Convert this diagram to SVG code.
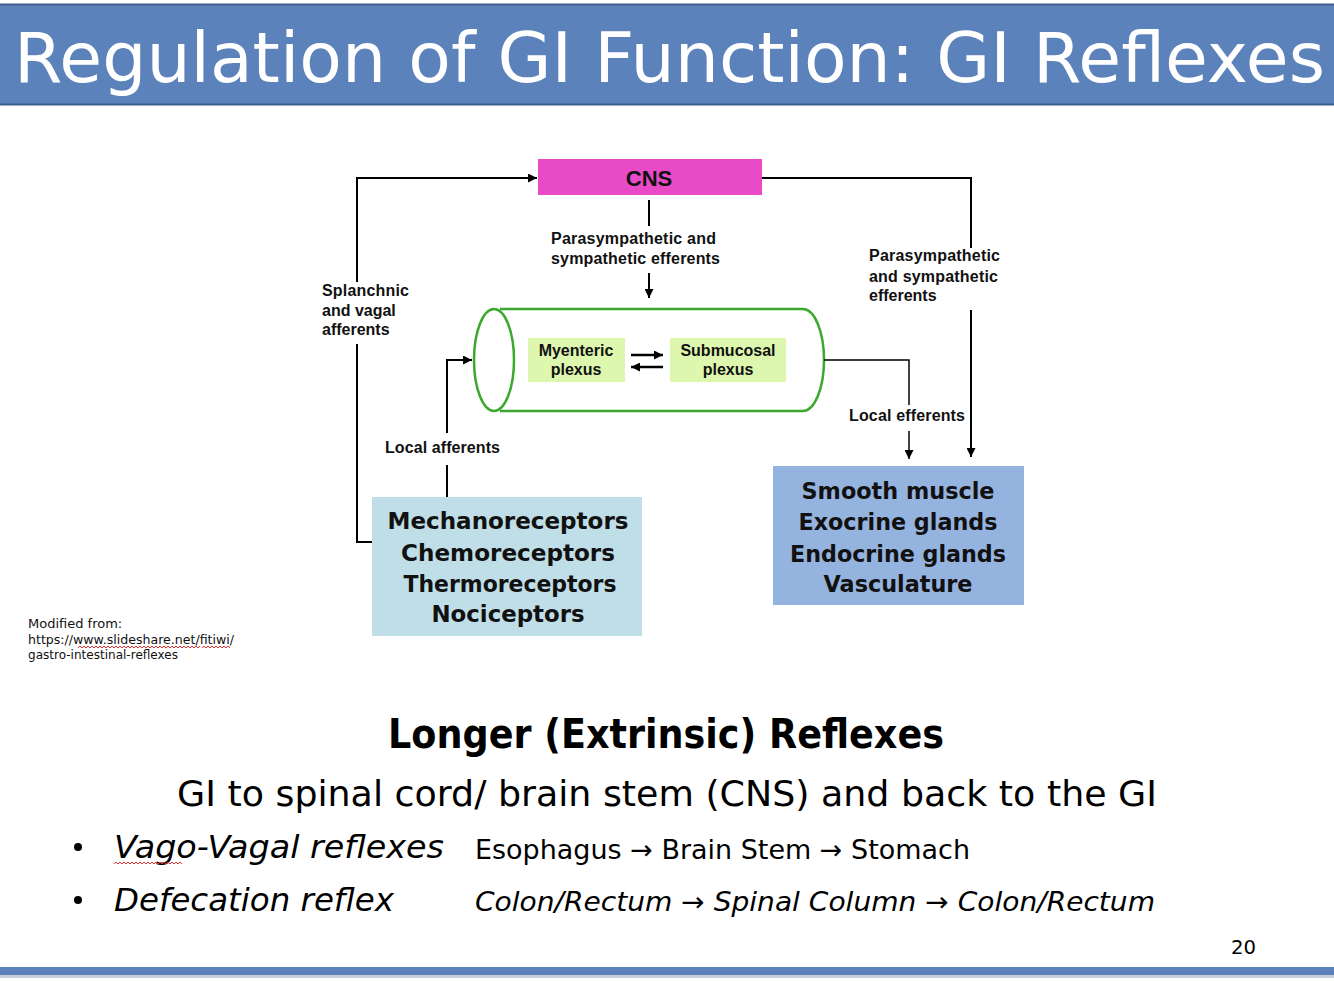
<svg xmlns="http://www.w3.org/2000/svg" width="1334" height="981" viewBox="0 0 1334 981">
<defs>
<marker id="ah" viewBox="0 0 10 10" refX="10" refY="5" markerWidth="9" markerHeight="9" markerUnits="userSpaceOnUse" orient="auto">
<path d="M0,0 L10,5 L0,10 z" fill="#000"/>
</marker>
<style>
.lbl{font-family:"Liberation Sans",Arial,sans-serif;font-weight:bold;font-size:16px;fill:#111;}
.big{font-family:"DejaVu Sans","Liberation Sans",sans-serif;font-weight:bold;font-size:23px;fill:#111;text-anchor:middle;}
.plex{font-family:"Liberation Sans",Arial,sans-serif;font-weight:bold;font-size:16px;fill:#111;text-anchor:middle;}
.ln{fill:none;stroke:#000;stroke-width:2;}
.body{font-family:"DejaVu Sans","Liberation Sans",sans-serif;fill:#000;}
.wavy{fill:none;stroke:#e03030;stroke-width:1;}
</style>
</defs>
<rect width="1334" height="981" fill="#fff"/>
<g id="title-bar">
<rect x="0" y="4" width="1334" height="101" fill="#5B82BB"/>
<line x1="0" y1="4.5" x2="1334" y2="4.5" stroke="#3E5E8E" stroke-width="2"/>
<line x1="0" y1="104.5" x2="1334" y2="104.5" stroke="#3E5E8E" stroke-width="2"/>
<text x="14" y="82" font-family="DejaVu Sans,sans-serif" font-size="70" fill="#fff" textLength="1311" lengthAdjust="spacingAndGlyphs">Regulation of GI Function: GI Reflexes</text>
</g>
<g id="bottom-bar">
<rect x="0" y="967" width="1334" height="8" fill="#5B82BB"/>
<rect x="0" y="975" width="1334" height="3" fill="#c9cfd8"/>
</g>
<g id="cns">
<rect x="538" y="159" width="224" height="36" fill="#E94BC6"/>
<text x="649" y="186" font-family="Liberation Sans,Arial,sans-serif" font-weight="bold" font-size="22" fill="#111" text-anchor="middle">CNS</text>
</g>
<g id="gi-tube">
<path d="M500,309 L803,309 A21,51 0 0 1 803,411 L500,411" fill="#fff" stroke="#3DA82E" stroke-width="2.5"/>
<ellipse cx="494" cy="360" rx="20" ry="51" fill="#fff" stroke="#3DA82E" stroke-width="2.5"/>
</g>
<g id="myenteric">
<rect x="528" y="338" width="97" height="44" fill="#DDF7AE"/>
<text class="plex" x="576" y="356">Myenteric</text>
<text class="plex" x="576" y="375">plexus</text>
</g>
<g id="submucosal">
<rect x="670" y="338" width="116" height="44" fill="#DDF7AE"/>
<text class="plex" x="728" y="356">Submucosal</text>
<text class="plex" x="728" y="375">plexus</text>
</g>
<g id="receptors">
<rect x="372" y="497" width="270" height="139" fill="#BFDEE7"/>
<text class="big" x="508" y="529" textLength="241" lengthAdjust="spacingAndGlyphs">Mechanoreceptors</text>
<text class="big" x="508" y="561" textLength="214" lengthAdjust="spacingAndGlyphs">Chemoreceptors</text>
<text class="big" x="510" y="592" textLength="213" lengthAdjust="spacingAndGlyphs">Thermoreceptors</text>
<text class="big" x="508" y="622" textLength="153" lengthAdjust="spacingAndGlyphs">Nociceptors</text>
</g>
<g id="effectors">
<rect x="773" y="466" width="251" height="139" fill="#95B3DF"/>
<text class="big" x="898" y="499" textLength="193" lengthAdjust="spacingAndGlyphs">Smooth muscle</text>
<text class="big" x="898" y="530" textLength="199" lengthAdjust="spacingAndGlyphs">Exocrine glands</text>
<text class="big" x="898" y="562" textLength="216" lengthAdjust="spacingAndGlyphs">Endocrine glands</text>
<text class="big" x="898" y="592" textLength="149" lengthAdjust="spacingAndGlyphs">Vasculature</text>
</g>
<g id="connectors">
<polyline class="ln" points="357,282 357,178 537,178" marker-end="url(#ah)"/>
<polyline class="ln" points="372,542 357,542 357,344"/>
<line class="ln" x1="649" y1="200" x2="649" y2="226"/>
<line class="ln" x1="649" y1="273" x2="649" y2="298" marker-end="url(#ah)"/>
<polyline class="ln" points="762,178 971,178 971,248"/>
<line class="ln" x1="971" y1="310" x2="971" y2="457" marker-end="url(#ah)"/>
<polyline class="ln" points="824,360 909,360 909,405" style="stroke-width:1.5"/>
<line class="ln" x1="909" y1="431" x2="909" y2="459" style="stroke-width:1.5" marker-end="url(#ah)"/>
<line class="ln" x1="447" y1="497" x2="447" y2="465"/>
<polyline class="ln" points="447,433 447,360 472,360" marker-end="url(#ah)"/>
<line class="ln" x1="631" y1="355" x2="663" y2="355" style="stroke-width:2.5" marker-end="url(#ah)"/>
<line class="ln" x1="663" y1="367" x2="631" y2="367" style="stroke-width:2.5" marker-end="url(#ah)"/>
</g>
<g id="labels">
<text class="lbl" x="551" y="244" textLength="165">Parasympathetic and</text>
<text class="lbl" x="551" y="264" textLength="169">sympathetic efferents</text>
<text class="lbl" x="322" y="296" textLength="87">Splanchnic</text>
<text class="lbl" x="322" y="316">and vagal</text>
<text class="lbl" x="322" y="335">afferents</text>
<text class="lbl" x="869" y="261" textLength="131">Parasympathetic</text>
<text class="lbl" x="869" y="282" textLength="129">and sympathetic</text>
<text class="lbl" x="869" y="301">efferents</text>
<text class="lbl" x="849" y="421" textLength="116">Local efferents</text>
<text class="lbl" x="385" y="453" textLength="115">Local afferents</text>
</g>
<g id="source-note" font-family="DejaVu Sans,sans-serif" font-size="13" fill="#111">
<text x="28" y="628">Modified from:</text>
<text x="28" y="644" textLength="206" lengthAdjust="spacingAndGlyphs">https://www.slideshare.net/fitiwi/</text>
<text x="28" y="659" textLength="150" lengthAdjust="spacingAndGlyphs">gastro-intestinal-reflexes</text>
<path class="wavy" d="M78,648 l2,-2 l2,2 l2,-2 l2,2 l2,-2 l2,2 l2,-2 l2,2 l2,-2 l2,2 l2,-2 l2,2 l2,-2 l2,2 l2,-2 l2,2 l2,-2 l2,2 l2,-2 l2,2 l2,-2 l2,2 l2,-2 l2,2 l2,-2 l2,2 l2,-2 l2,2 l2,-2 l2,2 l2,-2 l2,2 l2,-2 l2,2 l2,-2 l2,2 l2,-2 l2,2 l2,-2 l2,2 l2,-2 l2,2 l2,-2 l2,2 l2,-2 l2,2 l2,-2 l2,2 l2,-2 l2,2 l2,-2 l2,2 l2,-2 l2,2 l2,-2 l2,2 l2,-2 l2,2 l2,-2 l2,2 l2,-2"/>
<path class="wavy" d="M202,648 l2,-2 l2,2 l2,-2 l2,2 l2,-2 l2,2 l2,-2 l2,2 l2,-2 l2,2 l2,-2 l2,2 l2,-2 l2,2"/>
</g>
<g id="summary" class="body">
<text x="666" y="748" font-size="40" font-weight="bold" text-anchor="middle" textLength="556" lengthAdjust="spacingAndGlyphs">Longer (Extrinsic) Reflexes</text>
<text x="667" y="806" font-size="36" text-anchor="middle" textLength="980" lengthAdjust="spacingAndGlyphs">GI to spinal cord/ brain stem (CNS) and back to the GI</text>
<circle cx="78" cy="847" r="4" fill="#000"/>
<circle cx="78" cy="900" r="4" fill="#000"/>
<text x="114" y="858" font-size="32" font-style="italic" textLength="330" lengthAdjust="spacingAndGlyphs">Vago-Vagal reflexes</text>
<path class="wavy" d="M114,864 l2,-2 l2,2 l2,-2 l2,2 l2,-2 l2,2 l2,-2 l2,2 l2,-2 l2,2 l2,-2 l2,2 l2,-2 l2,2 l2,-2 l2,2 l2,-2 l2,2 l2,-2 l2,2 l2,-2 l2,2 l2,-2 l2,2 l2,-2 l2,2 l2,-2 l2,2 l2,-2 l2,2 l2,-2 l2,2 l2,-2 l2,2"/>
<text x="475" y="859" font-size="27" textLength="495" lengthAdjust="spacingAndGlyphs">Esophagus → Brain Stem → Stomach</text>
<text x="114" y="911" font-size="32" font-style="italic" textLength="280" lengthAdjust="spacingAndGlyphs">Defecation reflex</text>
<text x="475" y="911" font-size="27" font-style="italic" textLength="680" lengthAdjust="spacingAndGlyphs">Colon/Rectum → Spinal Column → Colon/Rectum</text>
<text x="1231" y="954" font-size="20" textLength="25" lengthAdjust="spacingAndGlyphs">20</text>
</g>
</svg>
